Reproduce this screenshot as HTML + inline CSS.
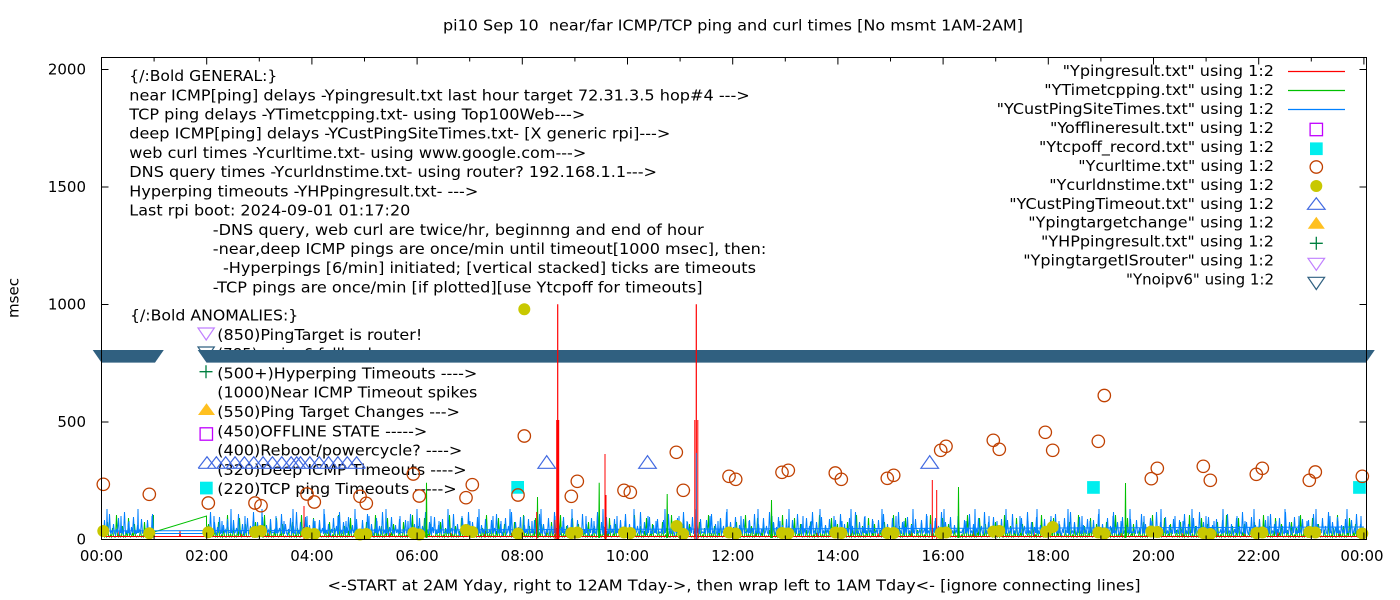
<!DOCTYPE html>
<html><head><meta charset="utf-8"><style>
html,body{margin:0;padding:0;background:#fff;}
svg{display:block;}
text{font-family:"DejaVu Sans","Liberation Sans",sans-serif;font-size:15px;fill:#000;white-space:pre;}
</style></head><body>
<svg width="1400" height="600" viewBox="0 0 1400 600" xmlns="http://www.w3.org/2000/svg">
<defs>
<pattern id="pb" patternUnits="userSpaceOnUse" x="101.5" y="500" width="43" height="40">
<path d="M0 33 L1 30 L2 34 L3 20 L4 33 L5 32 L6 28 L7 34 L8 14 L9 33 L10 31 L11 34 L12 24 L13 33 L14 35 L15 29 L16 33 L17 18 L18 34 L19 32 L20 26 L21 33 L22 34 L23 12 L24 33 L25 31 L26 34 L27 22 L28 32 L29 35 L30 27 L31 33 L32 17 L33 34 L34 31 L35 34 L36 25 L37 33 L38 30 L39 34 L40 19 L41 33 L42 32 L43 33" fill="none" stroke="#0080ff" stroke-width="1"/>
</pattern>
<pattern id="pb2" patternUnits="userSpaceOnUse" x="101.5" y="500" width="31" height="40">
<path d="M5 33 L5.5 9 L6 33 M19 33 L19.5 16 L20 33 M27 33 L27.5 21 L28 33" fill="none" stroke="#0080ff" stroke-width="1"/>
</pattern>
<pattern id="pg" patternUnits="userSpaceOnUse" x="101.5" y="500" width="37" height="40">
<path d="M0 37 L1 36 L2 30 L3 37 L4 36 L5 37 L6 22 L7 36 L8 37 L9 35 L10 37 L11 28 L12 36 L13 37 L14 37 L15 15 L16 36 L17 37 L18 34 L19 37 L20 36 L21 26 L22 37 L23 36 L24 37 L25 31 L26 37 L27 18 L28 36 L29 37 L30 36 L31 33 L32 37 L33 24 L34 36 L35 37 L36 36 L37 37" fill="none" stroke="#00c000" stroke-width="1"/>
</pattern>
<pattern id="pr" patternUnits="userSpaceOnUse" x="101.5" y="500" width="61" height="40">
<path d="M0 36.5 H61 M17 36.5 L17.5 31 L18 36.5 M44 36.5 L44.5 33 L45 36.5" fill="none" stroke="#ff0000" stroke-width="1"/>
</pattern>
</defs>
<rect width="1400" height="600" fill="#fff"/>
<!-- title / labels -->
<text x="733" y="30.5" text-anchor="middle" textLength="580" lengthAdjust="spacingAndGlyphs">pi10 Sep 10  near/far ICMP/TCP ping and curl times [No msmt 1AM-2AM]</text>
<text x="734" y="590.5" text-anchor="middle" textLength="813" lengthAdjust="spacingAndGlyphs">&lt;-START at 2AM Yday, right to 12AM Tday-&gt;, then wrap left to 1AM Tday&lt;- [ignore connecting lines]</text>
<text transform="translate(18.5,298) rotate(-90)" text-anchor="middle">msec</text>
<!-- y tick labels -->
<g text-anchor="end">
<text x="86" y="74.5">2000</text>
<text x="86" y="192">1500</text>
<text x="86" y="309.5">1000</text>
<text x="86" y="427">500</text>
<text x="86" y="544.5">0</text>
</g>
<!-- x tick labels -->
<g text-anchor="middle">
<text x="101.5" y="561">00:00</text>
<text x="206.7" y="561">02:00</text>
<text x="311.9" y="561">04:00</text>
<text x="417.1" y="561">06:00</text>
<text x="522.3" y="561">08:00</text>
<text x="627.5" y="561">10:00</text>
<text x="732.7" y="561">12:00</text>
<text x="837.9" y="561">14:00</text>
<text x="943.1" y="561">16:00</text>
<text x="1048.3" y="561">18:00</text>
<text x="1153.5" y="561">20:00</text>
<text x="1258.7" y="561">22:00</text>
<text x="1362" y="561">00:00</text>
</g>
<!-- GENERAL text -->
<text x="129.3" y="81" textLength="148" lengthAdjust="spacingAndGlyphs">{/:Bold GENERAL:}</text>
<text x="129.3" y="100.3" textLength="620.5" lengthAdjust="spacingAndGlyphs">near ICMP[ping] delays -Ypingresult.txt last hour target 72.31.3.5 hop#4 ---&gt;</text>
<text x="129.3" y="119.5" textLength="456" lengthAdjust="spacingAndGlyphs">TCP ping delays -YTimetcpping.txt- using Top100Web---&gt;</text>
<text x="129.3" y="138.7" textLength="541" lengthAdjust="spacingAndGlyphs">deep ICMP[ping] delays -YCustPingSiteTimes.txt- [X generic rpi]---&gt;</text>
<text x="129.3" y="157.9" textLength="457" lengthAdjust="spacingAndGlyphs">web curl times -Ycurltime.txt- using www.google.com---&gt;</text>
<text x="129.3" y="177.1" textLength="527.7" lengthAdjust="spacingAndGlyphs">DNS query times -Ycurldnstime.txt- using router? 192.168.1.1---&gt;</text>
<text x="129.3" y="196.3" textLength="349" lengthAdjust="spacingAndGlyphs">Hyperping timeouts -YHPpingresult.txt- ---&gt;</text>
<text x="129.3" y="215.5" textLength="281" lengthAdjust="spacingAndGlyphs">Last rpi boot: 2024-09-01 01:17:20</text>
<text x="212.8" y="234.8" textLength="491" lengthAdjust="spacingAndGlyphs">-DNS query, web curl are twice/hr, beginnng and end of hour</text>
<text x="212.8" y="254" textLength="553.5" lengthAdjust="spacingAndGlyphs">-near,deep ICMP pings are once/min until timeout[1000 msec], then:</text>
<text x="223" y="273.2" textLength="533" lengthAdjust="spacingAndGlyphs">-Hyperpings [6/min] initiated; [vertical stacked] ticks are timeouts</text>
<text x="212.8" y="292.4" textLength="489.7" lengthAdjust="spacingAndGlyphs">-TCP pings are once/min [if plotted][use Ytcpoff for timeouts]</text>
<!-- ANOMALIES text -->
<text x="130" y="320.5" textLength="168.3" lengthAdjust="spacingAndGlyphs">{/:Bold ANOMALIES:}</text>
<text x="217.3" y="339.8" textLength="205" lengthAdjust="spacingAndGlyphs">(850)PingTarget is router!</text>
<text x="217.3" y="359.1">(785)no ipv6 fallback</text>
<text x="217.3" y="378.4" textLength="260" lengthAdjust="spacingAndGlyphs">(500+)Hyperping Timeouts ----&gt;</text>
<text x="217.3" y="397.7" textLength="260" lengthAdjust="spacingAndGlyphs">(1000)Near ICMP Timeout spikes</text>
<text x="217.3" y="417" textLength="242.7" lengthAdjust="spacingAndGlyphs">(550)Ping Target Changes ---&gt;</text>
<text x="217.3" y="436.3" textLength="210" lengthAdjust="spacingAndGlyphs">(450)OFFLINE STATE -----&gt;</text>
<text x="217.3" y="455.6" textLength="245" lengthAdjust="spacingAndGlyphs">(400)Reboot/powercycle? ----&gt;</text>
<text x="217.3" y="474.9" textLength="249.4" lengthAdjust="spacingAndGlyphs">(320)Deep ICMP Timeouts ----&gt;</text>
<text x="217.3" y="494.2" textLength="239.4" lengthAdjust="spacingAndGlyphs">(220)TCP ping Timeouts -----&gt;</text>
<!-- legend text -->
<g text-anchor="end">
<text x="1274" y="76.2" textLength="211.3" lengthAdjust="spacingAndGlyphs">"Ypingresult.txt" using 1:2</text>
<text x="1274" y="95.1" textLength="229.7" lengthAdjust="spacingAndGlyphs">"YTimetcpping.txt" using 1:2</text>
<text x="1274" y="114.1" textLength="277.3" lengthAdjust="spacingAndGlyphs">"YCustPingSiteTimes.txt" using 1:2</text>
<text x="1274" y="133" textLength="224" lengthAdjust="spacingAndGlyphs">"Yofflineresult.txt" using 1:2</text>
<text x="1274" y="152" textLength="235" lengthAdjust="spacingAndGlyphs">"Ytcpoff_record.txt" using 1:2</text>
<text x="1274" y="170.9" textLength="195.7" lengthAdjust="spacingAndGlyphs">"Ycurltime.txt" using 1:2</text>
<text x="1274" y="189.8" textLength="224.7" lengthAdjust="spacingAndGlyphs">"Ycurldnstime.txt" using 1:2</text>
<text x="1274" y="208.8" textLength="264.7" lengthAdjust="spacingAndGlyphs">"YCustPingTimeout.txt" using 1:2</text>
<text x="1274" y="227.7" textLength="245.7" lengthAdjust="spacingAndGlyphs">"Ypingtargetchange" using 1:2</text>
<text x="1274" y="246.7" textLength="233" lengthAdjust="spacingAndGlyphs">"YHPpingresult.txt" using 1:2</text>
<text x="1274" y="265.6" textLength="250.7" lengthAdjust="spacingAndGlyphs">"YpingtargetISrouter" using 1:2</text>
<text x="1274" y="284.5">"Ynoipv6" using 1:2</text>
</g>
<!-- legend samples -->
<line x1="1288" y1="71.5" x2="1345" y2="71.5" stroke="#ff0000" stroke-width="1.2"/>
<line x1="1288" y1="90.5" x2="1345" y2="90.5" stroke="#00c000" stroke-width="1.2"/>
<line x1="1288" y1="109.5" x2="1345" y2="109.5" stroke="#0080ff" stroke-width="1.2"/>
<rect x="1310.1" y="123.3" width="12.4" height="12.4" fill="none" stroke="#c000ff" stroke-width="1.3"/>
<rect x="1310" y="142.4" width="12.7" height="12.7" fill="#00eeee"/>
<circle cx="1316.3" cy="167" r="6.2" fill="none" stroke="#c04000" stroke-width="1.3"/>
<circle cx="1316.3" cy="186" r="6" fill="#c8c800"/>
<path d="M1307.5 209.3 L1316.3 197.7 L1325.1 209.3 Z" fill="none" stroke="#4169e1" stroke-width="1.2"/>
<path d="M1307.8 228.7 L1316.3 216.7 L1324.8 228.7 Z" fill="#ffc020"/>
<path d="M1309.8 243.3 H1322.8 M1316.3 236.8 V249.8" stroke="#008040" stroke-width="1.3"/>
<path d="M1308 258.3 L1324.6 258.3 L1316.3 270.3 Z" fill="none" stroke="#c080ff" stroke-width="1.2"/>
<path d="M1308 277.3 L1324.6 277.3 L1316.3 289.5 Z" fill="none" stroke="#306080" stroke-width="1.2"/>
<!-- anomaly symbols -->
<path d="M198 328 L214.3 328 L206.2 340 Z" fill="none" stroke="#c080ff" stroke-width="1.2"/>
<path d="M198 347 L214.3 347 L206.2 359 Z" fill="none" stroke="#306080" stroke-width="1.2"/>
<path d="M199.5 371.7 H212.5 M206 365.2 V378.2" stroke="#008040" stroke-width="1.3"/>
<path d="M198 415 L206.5 403.3 L215 415 Z" fill="#ffc020"/>
<rect x="200.1" y="427.8" width="12.4" height="12.4" fill="none" stroke="#c000ff" stroke-width="1.3"/>
<rect x="200" y="481.7" width="12.7" height="12.7" fill="#00eeee"/>
<!-- band (Ynoipv6) -->
<path d="M92.7 350 L163.8 350 L155 362.6 L101.5 362.6 Z" fill="#306080"/>
<path d="M197.7 350 L1374.8 350 L1366 362.6 L206.5 362.6 Z" fill="#306080"/>
<!-- noisy data -->
<rect x="102" y="500" width="1262" height="39" fill="url(#pr)"/>
<rect x="102" y="500" width="52" height="39" fill="url(#pg)"/>
<rect x="207" y="500" width="1157" height="39" fill="url(#pg)"/>
<rect x="102" y="500" width="52" height="39" fill="url(#pb)"/>
<rect x="207" y="500" width="1157" height="39" fill="url(#pb)"/>
<rect x="102" y="500" width="52" height="39" fill="url(#pb2)"/>
<rect x="207" y="500" width="1157" height="39" fill="url(#pb2)"/>
<!-- wrap / gap lines -->
<path d="M101.5 536.5 H1364" stroke="#ff0000" stroke-width="1" fill="none"/>
<path d="M154 532 L206.5 516 L206.5 537" stroke="#00c000" stroke-width="1" fill="none"/>
<path d="M101.5 531 L1363.9 527" stroke="#0080ff" stroke-width="1" fill="none"/>
<path d="M154 533.5 L207 533.5" stroke="#0080ff" stroke-width="1" fill="none"/>
<!-- green spikes -->
<path d="M426 538 L426.5 482.7 L427 538 M598.7 538 L599.2 482.7 L599.7 538 M666.7 538 L667.2 494 L667.7 538 M958 538 L958.5 487 L959 538 M1125 538 L1125.5 483 L1126 538 M537 538 L537.5 497 L538 538 M771 538 L771.5 500 L772 538" stroke="#00c000" stroke-width="1" fill="none"/>
<!-- red spikes -->
<g stroke="#ff0000" fill="none">
<path d="M557.7 539 V304.3" stroke-width="1.2"/>
<path d="M557.7 539 V420" stroke-width="3"/>
<path d="M696.3 539 V304.3" stroke-width="1.2"/>
<path d="M694.8 539 V420 M697.8 539 V420" stroke-width="1"/>
<path d="M605 539 V454" stroke-width="1"/>
<path d="M605.5 539 V495" stroke-width="2"/>
<path d="M932.3 539 V480 M936.7 539 V490 M304 539 V506 M536.7 539 V512 M555 539 V520" stroke-width="1"/>
</g>
<path d="M696.3 539 V453" stroke="#0080ff" stroke-width="0.8"/>
<!-- cyan squares data -->
<g fill="#00eeee">
<rect x="511.3" y="481" width="12.7" height="12.7"/>
<rect x="1087.1" y="481.1" width="12.7" height="12.7"/>
<rect x="1353.1" y="481.1" width="12.7" height="12.7"/>
</g>
<!-- deep ICMP timeout triangles -->
<g fill="none" stroke="#4169e1" stroke-width="1.2">
<path d="M537.9 468.3 L546.7 455.7 L555.5 468.3 Z"/>
<path d="M638.7 468.3 L647.5 455.7 L656.3 468.3 Z"/>
<path d="M920.9 468.3 L929.7 455.7 L938.5 468.3 Z"/>
<path d="M198.2 468.3 L207 456.7 L215.8 468.3 M207.55 468.3 L216.35 456.7 L225.15 468.3 M216.9 468.3 L225.7 456.7 L234.5 468.3 M226.25 468.3 L235.05 456.7 L243.85 468.3 M235.6 468.3 L244.4 456.7 L253.2 468.3 M244.95 468.3 L253.75 456.7 L262.55 468.3 M254.3 468.3 L263.1 456.7 L271.9 468.3 M263.65 468.3 L272.45 456.7 L281.25 468.3 M273 468.3 L281.8 456.7 L290.6 468.3 M282.35 468.3 L291.15 456.7 L299.95 468.3 M291.7 468.3 L300.5 456.7 L309.3 468.3 M301.05 468.3 L309.85 456.7 L318.65 468.3 M310.4 468.3 L319.2 456.7 L328 468.3 M319.75 468.3 L328.55 456.7 L337.35 468.3 M329.1 468.3 L337.9 456.7 L346.7 468.3 M338.45 468.3 L347.25 456.7 L356.05 468.3 M347.8 468.3 L356.6 456.7 L365.4 468.3 M198.2 468.3 H365.4"/>
<path d="M287.9 468.3 L296.7 456.7 L305.5 468.3"/>
</g>
<!-- yellow dots -->
<g fill="#c8c800">
<circle cx="103.3" cy="531" r="6"/><circle cx="149.3" cy="533.3" r="6"/><circle cx="208.3" cy="532.3" r="6"/>
<circle cx="255" cy="532" r="6"/><circle cx="261" cy="531" r="6"/>
<circle cx="307" cy="533" r="6"/><circle cx="314.3" cy="534" r="6"/>
<circle cx="360" cy="534.5" r="6"/><circle cx="366.3" cy="534" r="6"/>
<circle cx="413.3" cy="533" r="6"/><circle cx="419.3" cy="534.5" r="6"/>
<circle cx="466" cy="530" r="6"/><circle cx="472.3" cy="532" r="6"/>
<circle cx="518" cy="533.5" r="6"/><circle cx="524.3" cy="309.3" r="6"/>
<circle cx="571.3" cy="533" r="6"/><circle cx="577.3" cy="532.5" r="6"/>
<circle cx="624" cy="532.5" r="6"/><circle cx="630.3" cy="533" r="6"/>
<circle cx="676.7" cy="526" r="6"/><circle cx="683.3" cy="534" r="6"/>
<circle cx="729" cy="532.5" r="6"/><circle cx="735.7" cy="533.5" r="6"/>
<circle cx="782" cy="533" r="6"/><circle cx="788.3" cy="533.5" r="6"/>
<circle cx="835.3" cy="532.5" r="6"/><circle cx="841.3" cy="533" r="6"/>
<circle cx="887.3" cy="533" r="6"/><circle cx="893.7" cy="533" r="6"/>
<circle cx="940.7" cy="533" r="6"/><circle cx="946" cy="532.5" r="6"/>
<circle cx="993.3" cy="531.5" r="6"/><circle cx="999.3" cy="531" r="6"/>
<circle cx="1046" cy="531.7" r="6"/><circle cx="1052.7" cy="527" r="6"/>
<circle cx="1098.3" cy="532.5" r="6"/><circle cx="1104.3" cy="533.5" r="6"/>
<circle cx="1151.3" cy="531.5" r="6"/><circle cx="1157.3" cy="532" r="6"/>
<circle cx="1203.3" cy="533" r="6"/><circle cx="1210.3" cy="534" r="6"/>
<circle cx="1256.3" cy="533" r="6"/><circle cx="1262.3" cy="532.5" r="6"/>
<circle cx="1309.3" cy="532" r="6"/><circle cx="1315.3" cy="532.5" r="6"/>
<circle cx="1362.3" cy="533.5" r="6"/>
</g>
<!-- curl circles -->
<g fill="none" stroke="#c04000" stroke-width="1.3">
<circle cx="103.3" cy="484.3" r="6.2"/><circle cx="149.3" cy="494.3" r="6.2"/><circle cx="208.3" cy="503" r="6.2"/>
<circle cx="255" cy="503" r="6.2"/><circle cx="261" cy="505.7" r="6.2"/>
<circle cx="307" cy="494" r="6.2"/><circle cx="314.3" cy="502" r="6.2"/>
<circle cx="360" cy="496.3" r="6.2"/><circle cx="366.3" cy="503.3" r="6.2"/>
<circle cx="413.3" cy="474" r="6.2"/><circle cx="419.3" cy="496" r="6.2"/>
<circle cx="466" cy="497.7" r="6.2"/><circle cx="472.3" cy="484.7" r="6.2"/>
<circle cx="518" cy="495" r="6.2"/><circle cx="524.3" cy="436" r="6.2"/>
<circle cx="571.3" cy="496.3" r="6.2"/><circle cx="577.3" cy="481.3" r="6.2"/>
<circle cx="624" cy="490.3" r="6.2"/><circle cx="630.3" cy="492.3" r="6.2"/>
<circle cx="676.3" cy="452.3" r="6.2"/><circle cx="683.3" cy="490.3" r="6.2"/>
<circle cx="729" cy="476.3" r="6.2"/><circle cx="735.7" cy="479.3" r="6.2"/>
<circle cx="782" cy="472.3" r="6.2"/><circle cx="788.3" cy="470.3" r="6.2"/>
<circle cx="835.3" cy="473" r="6.2"/><circle cx="841.3" cy="479.3" r="6.2"/>
<circle cx="887.3" cy="478.3" r="6.2"/><circle cx="893.7" cy="475.3" r="6.2"/>
<circle cx="940.7" cy="450.3" r="6.2"/><circle cx="946" cy="446.3" r="6.2"/>
<circle cx="993.3" cy="440.3" r="6.2"/><circle cx="999.3" cy="449.3" r="6.2"/>
<circle cx="1045.3" cy="432.3" r="6.2"/><circle cx="1052.7" cy="450.3" r="6.2"/>
<circle cx="1098.3" cy="441.3" r="6.2"/><circle cx="1104.3" cy="395.5" r="6.2"/>
<circle cx="1151.3" cy="478.7" r="6.2"/><circle cx="1157.3" cy="468.3" r="6.2"/>
<circle cx="1203.3" cy="466.3" r="6.2"/><circle cx="1210.3" cy="480.3" r="6.2"/>
<circle cx="1256.3" cy="474.3" r="6.2"/><circle cx="1262.3" cy="468.3" r="6.2"/>
<circle cx="1309.3" cy="480.3" r="6.2"/><circle cx="1315.3" cy="472" r="6.2"/>
<circle cx="1362.3" cy="476.3" r="6.2"/>
</g>
<!-- frame and ticks -->
<g stroke="#000" stroke-width="1" fill="none">
<rect x="101.5" y="57.5" width="1265" height="482"/>
<path d="M101.5 539.5 v-7 M154.1 539.5 v-4 M206.7 539.5 v-7 M259.3 539.5 v-4 M311.9 539.5 v-7 M364.5 539.5 v-4 M417.1 539.5 v-7 M469.7 539.5 v-4 M522.3 539.5 v-7 M574.9 539.5 v-4 M627.5 539.5 v-7 M680.1 539.5 v-4 M732.7 539.5 v-7 M785.3 539.5 v-4 M837.9 539.5 v-7 M890.5 539.5 v-4 M943.1 539.5 v-7 M995.7 539.5 v-4 M1048.3 539.5 v-7 M1100.9 539.5 v-4 M1153.5 539.5 v-7 M1206.1 539.5 v-4 M1258.7 539.5 v-7 M1311.3 539.5 v-4 M1363.9 539.5 v-7
M154.1 57.5 v4 M206.7 57.5 v7 M259.3 57.5 v4 M311.9 57.5 v7 M364.5 57.5 v4 M417.1 57.5 v7 M469.7 57.5 v4 M522.3 57.5 v7 M574.9 57.5 v4 M627.5 57.5 v7 M680.1 57.5 v4 M732.7 57.5 v7 M785.3 57.5 v4 M837.9 57.5 v7 M890.5 57.5 v4 M943.1 57.5 v7 M995.7 57.5 v4 M1048.3 57.5 v7 M1100.9 57.5 v4 M1153.5 57.5 v7 M1206.1 57.5 v4 M1258.7 57.5 v7 M1311.3 57.5 v4 M1363.9 57.5 v7
M101.5 539.5 h7 M101.5 422 h7 M101.5 304.5 h7 M101.5 187 h7 M101.5 69.5 h7
M1366.5 422 h-7 M1366.5 304.5 h-7 M1366.5 187 h-7 M1366.5 69.5 h-7"/>
</g>
</svg>
</body></html>
